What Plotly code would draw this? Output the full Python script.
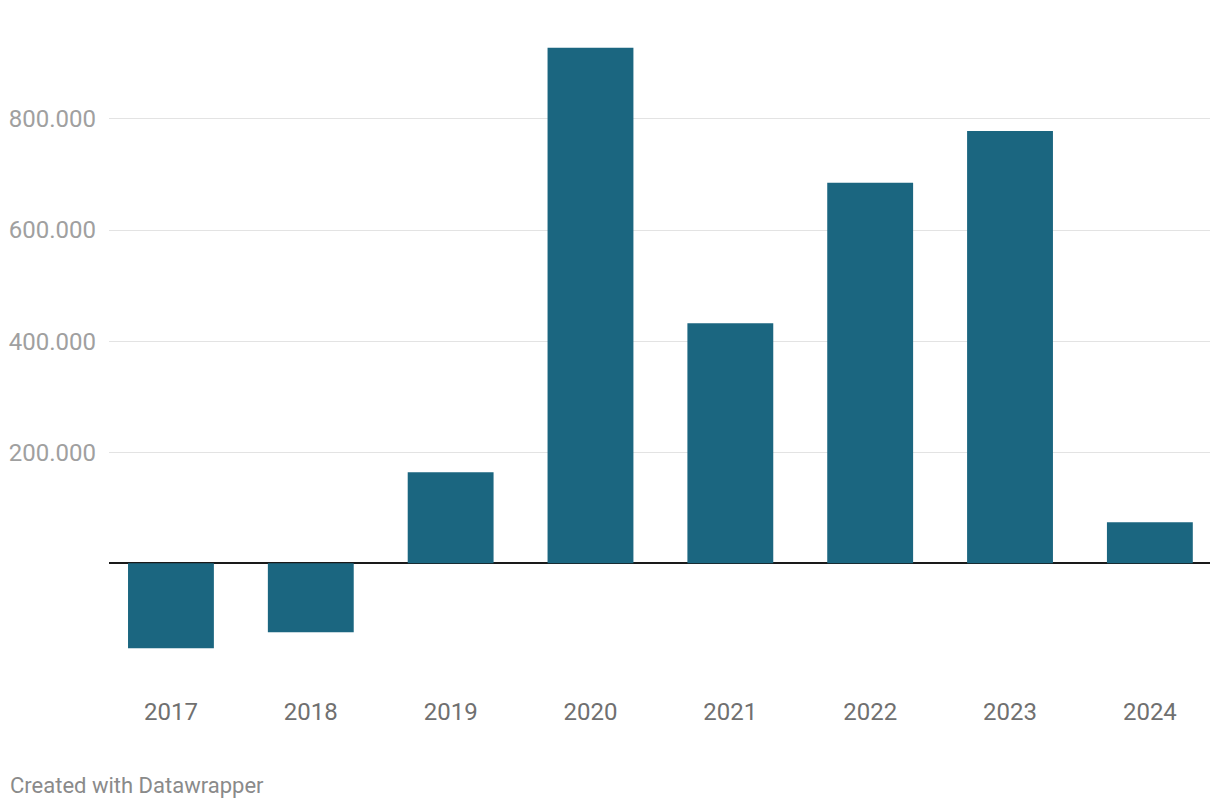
import plotly.graph_objects as go

years = ["2017", "2018", "2019", "2020", "2021", "2022", "2023", "2024"]
values = [-153000, -124000, 164000, 928000, 432000, 685000, 778000, 74000]
y_tick_vals = [200000, 400000, 600000, 800000]
y_tick_text = ["200.000", "400.000", "600.000", "800.000"]

fig = go.Figure(
    go.Bar(
        x=years,
        y=values,
        marker=dict(color="#1b6680", line=dict(width=0)),
        hoverinfo="x+y",
    )
)

fig.update_layout(
    width=1212,
    height=800,
    margin=dict(l=101, r=10, t=22, b=128, autoexpand=False),
    paper_bgcolor="white",
    plot_bgcolor="white",
    bargap=0.386,
    showlegend=False,
    font=dict(family="Roboto", size=24, color="#707070"),
    annotations=[
        dict(
            text="Created with Datawrapper",
            xref="paper", yref="paper",
            x=-101 / 1101, y=-(777 - 672) / 650,
            xanchor="left", yanchor="middle",
            showarrow=False,
            font=dict(family="Roboto", size=22, color="#8a8a8a"),
        )
    ],
)

fig.update_xaxes(
    type="category",
    range=[-0.443, 7.43],
    showgrid=False,
    showline=False,
    ticks="",
    automargin=False,
    ticklabelstandoff=15,
    tickfont=dict(family="Roboto", size=24, color="#707070"),
)

fig.update_yaxes(
    range=[-210000, 960000],
    tickvals=y_tick_vals,
    ticktext=y_tick_text,
    showgrid=True,
    gridcolor="#e3e3e3",
    gridwidth=1,
    zeroline=True,
    zerolinecolor="#1a1a1a",
    zerolinewidth=2,
    showline=False,
    ticks="",
    automargin=False,
    ticklabelstandoff=12,
    tickfont=dict(family="Roboto", size=24, color="#a0a0a0"),
)

fig.write_html("out.html")
